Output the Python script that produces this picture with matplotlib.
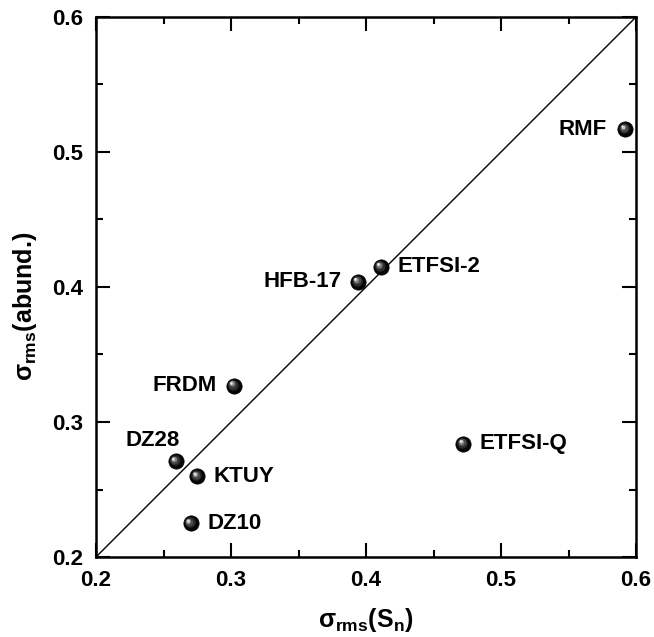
import matplotlib
matplotlib.use("Agg")
import matplotlib.pyplot as plt
from matplotlib.ticker import MultipleLocator
from matplotlib.transforms import offset_copy

plt.rcParams['font.family'] = ['Liberation Sans', 'DejaVu Sans']
plt.rcParams['font.weight'] = 'bold'
plt.rcParams['mathtext.fontset'] = 'custom'
plt.rcParams['mathtext.rm'] = 'Liberation Sans:bold'
plt.rcParams['mathtext.bf'] = 'Liberation Sans:bold'
plt.rcParams['mathtext.it'] = 'Liberation Sans:bold'

models = ['RMF', 'ETFSI-2', 'HFB-17', 'FRDM', 'DZ28', 'KTUY', 'DZ10', 'ETFSI-Q']
sigma_sn = [0.592, 0.411, 0.394, 0.302, 0.259, 0.275, 0.270, 0.472]
sigma_abund = [0.517, 0.415, 0.404, 0.327, 0.271, 0.260, 0.225, 0.284]
# label offsets in points, and horizontal alignment
label_dx = [-13, 12, -12, -12, 3, 12, 12, 12]
label_dy = [0, 0, 0, 0, 15, 0, 0, 0]
label_ha = ['right', 'left', 'right', 'right', 'right', 'left', 'left', 'left']

xticks = [0.2, 0.3, 0.4, 0.5, 0.6]
yticks = [0.2, 0.3, 0.4, 0.5, 0.6]

fig = plt.figure(figsize=(6.54, 6.37), dpi=100)
ax = fig.add_axes([96/654, 1-557/637, 540/654, 540/637])

ax.plot([0.2, 0.6], [0.2, 0.6], color='black', lw=1.0, zorder=1)

# sphere-like markers
ax.plot(sigma_sn, sigma_abund, 'o', ms=11, color='#050505', mec='#000000', mew=0.5, zorder=3, linestyle='none')
layers = [(7.5, '#2a2a2a', -0.6, 0.6), (5.5, '#4a4a4a', -1.0, 1.0),
          (3.8, '#808080', -1.5, 1.5), (2.4, '#c8c8c8', -1.8, 1.8),
          (1.2, '#f4f4f4', -2.0, 2.0)]
for size, col, dx, dy in layers:
    tr = offset_copy(ax.transData, fig=fig, x=dx, y=dy, units='points')
    ax.plot(sigma_sn, sigma_abund, 'o', ms=size, color=col, mew=0, transform=tr, zorder=4, linestyle='none')

for name, x, y, dx, dy, ha in zip(models, sigma_sn, sigma_abund, label_dx, label_dy, label_ha):
    ax.annotate(name, (x, y), xytext=(dx, dy), textcoords='offset points',
                ha=ha, va='center', fontsize=16, fontweight='bold', zorder=5)

ax.set_xlim(0.2, 0.6)
ax.set_ylim(0.2, 0.6)
ax.set_xticks(xticks)
ax.set_yticks(yticks)
ax.set_xticklabels([f'{t:.1f}' for t in xticks])
ax.set_yticklabels([f'{t:.1f}' for t in yticks])
ax.xaxis.set_minor_locator(MultipleLocator(0.05))
ax.yaxis.set_minor_locator(MultipleLocator(0.05))
ax.tick_params(which='both', direction='in', top=True, right=True, width=1.5)
ax.tick_params(which='major', length=10, labelsize=16, pad=9)
ax.tick_params(which='minor', length=5)
for lab in ax.get_xticklabels() + ax.get_yticklabels():
    lab.set_fontweight('bold')
for s in ax.spines.values():
    s.set_linewidth(1.8)

ax.set_xlabel(r'$\sigma_{\mathbf{rms}}$(S$_{\mathbf{n}}$)', fontsize=18, fontweight='bold', labelpad=11)
ax.set_ylabel(r'$\sigma_{\mathbf{rms}}$(abund.)', fontsize=18, fontweight='bold')
ax.yaxis.set_label_coords(-0.105, 0.465)

fig.savefig('out.png', dpi=100)
